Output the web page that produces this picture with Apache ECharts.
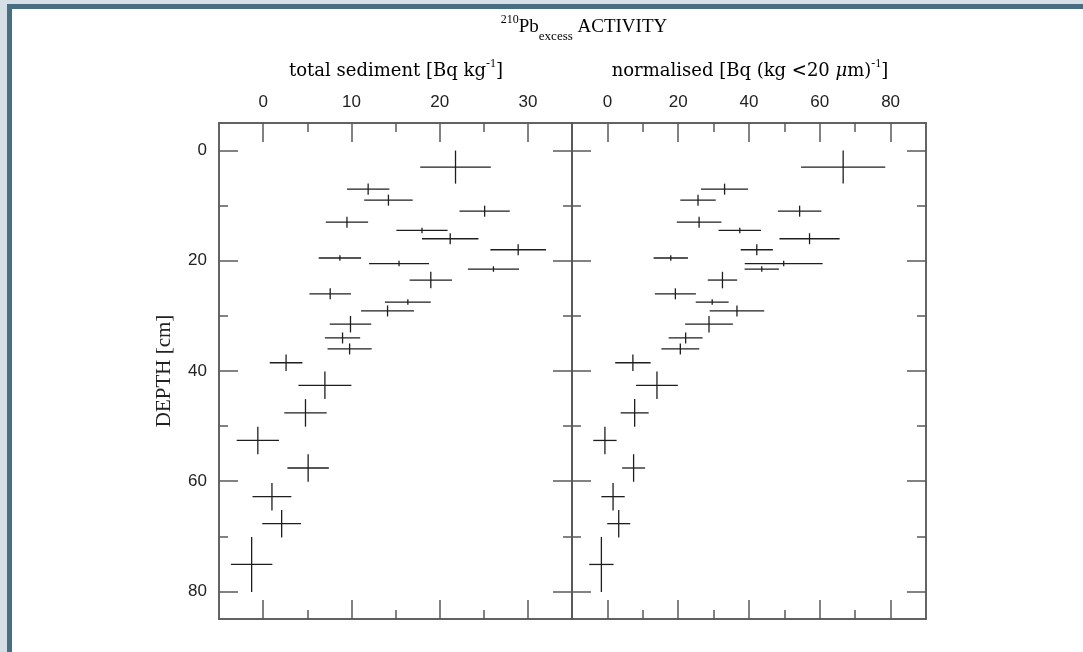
<!DOCTYPE html>
<html><head><meta charset="utf-8">
<script src="https://cdn.jsdelivr.net/npm/echarts@6/dist/echarts.min.js"></script>
<style>
html,body{margin:0;padding:0;width:1083px;height:652px;overflow:hidden;background:#d6dfe6;}
#frame{position:absolute;left:7px;top:4px;right:0;bottom:0;border-top:5px solid #4a6e81;border-left:5px solid #4a6e81;background:#fff;}
#chart{position:absolute;left:0;top:0;width:1083px;height:652px;}
</style></head>
<body><div id="frame"></div><div id="chart"></div>
<script>
// depth of each sample [cm] and its half-interval
const depth    = [3, 7, 9, 11, 13, 14.5, 16, 18, 19.5, 20.5, 21.5, 23.5, 26, 27.5, 29.1, 31.5, 34, 36, 38.5, 42.6, 47.6, 52.6, 57.6, 62.8, 67.7, 75.1];
const depthErr = [3, 1, 1, 1, 1, 0.5, 1, 1, 0.5, 0.5, 0.5, 1.5, 1, 0.5, 1, 1.5, 1, 1, 1.5, 2.5, 2.5, 2.5, 2.5, 2.5, 2.5, 5];
// total sediment activity [Bq/kg]
const totalAct = [21.8, 11.9, 14.2, 25.1, 9.5, 18.0, 21.2, 28.9, 8.7, 15.4, 26.1, 19.0, 7.6, 16.4, 14.1, 9.9, 9.0, 9.8, 2.6, 7.0, 4.8, -0.6, 5.1, 1.0, 2.1, -1.3];
const totalErr = [4.0, 2.4, 2.75, 2.85, 2.4, 2.9, 3.2, 3.15, 2.4, 3.4, 2.9, 2.4, 2.35, 2.6, 3.0, 2.35, 2.0, 2.5, 1.85, 3.0, 2.4, 2.4, 2.35, 2.2, 2.2, 2.35];
// normalised activity [Bq/(kg <20 um)]
const normAct  = [66.6, 33.1, 25.6, 54.3, 25.9, 37.4, 57.1, 42.2, 17.9, 49.8, 43.6, 32.5, 19.2, 29.6, 36.6, 28.7, 22.1, 20.6, 7.2, 14.0, 7.7, -0.7, 7.4, 1.6, 3.2, -1.7];
const normErr  = [11.9, 6.65, 5.0, 6.15, 6.3, 6.0, 8.5, 4.55, 4.85, 11.0, 4.85, 4.15, 5.8, 4.65, 7.7, 6.75, 4.8, 5.35, 5.0, 5.9, 3.95, 3.3, 3.25, 3.3, 3.25, 3.45];
// ticks
const totalMajor = [0, 10, 20, 30];
const totalMinor = [5, 15, 25];
const normMajor  = [0, 20, 40, 60, 80];
const normMinor  = [10, 30, 50, 70];
const depthMajor = [0, 20, 40, 60, 80];
const depthMinor = [10, 30, 50, 70];
const totalRange = [-5, 35];
const normRange  = [-10, 90];
const depthRange = [-5, 85];

const LINE = {color: '#5a5a5a', width: 1.5};
const LABEL = {color: '#222', fontFamily: 'Liberation Sans', fontSize: 17, margin: 12};

function tickAxis(kind, gridIndex, position, range, values, len, labelled, extra) {
  return Object.assign({
    type: 'value', gridIndex: gridIndex, position: position,
    min: range[0], max: range[1],
    axisLine: {show: true, onZero: false, lineStyle: LINE},
    axisTick: {show: true, inside: true, length: len, customValues: values, lineStyle: LINE},
    axisLabel: Object.assign({show: labelled, customValues: values}, LABEL),
    splitLine: {show: false}, minorTick: {show: false}
  }, extra || {});
}

function xAxesFor(g, range, major, minor) {
  return [
    tickAxis('x', g, 'top', range, major, 19, true),
    tickAxis('x', g, 'top', range, minor, 9, false),
    tickAxis('x', g, 'bottom', range, major, 19, false),
    tickAxis('x', g, 'bottom', range, minor, 9, false)
  ];
}
function yAxesFor(g, labelled) {
  const nameOpt = labelled ? {
    name: 'DEPTH [cm]', nameLocation: 'middle', nameGap: 44, nameRotate: 90,
    nameTextStyle: {fontFamily: 'Liberation Serif', fontSize: 21, color: '#222'}
  } : {};
  return [
    tickAxis('y', g, 'left', depthRange, depthMajor, 19, labelled, Object.assign({inverse: true}, nameOpt)),
    tickAxis('y', g, 'left', depthRange, depthMinor, 9, false, {inverse: true}),
    tickAxis('y', g, 'right', depthRange, depthMajor, 19, false, {inverse: true}),
    tickAxis('y', g, 'right', depthRange, depthMinor, 9, false, {inverse: true})
  ];
}

function crossRenderer(params, api) {
  const x = api.value(0), y = api.value(1), ex = api.value(2), ey = api.value(3);
  const a = api.coord([x - ex, y]), b = api.coord([x + ex, y]);
  const c = api.coord([x, y - ey]), d = api.coord([x, y + ey]);
  const st = {stroke: '#1e1e1e', lineWidth: 1.3};
  return {type: 'group', children: [
    {type: 'line', shape: {x1: a[0], y1: a[1], x2: b[0], y2: b[1]}, style: st},
    {type: 'line', shape: {x1: c[0], y1: c[1], x2: d[0], y2: d[1]}, style: st}
  ]};
}

const SERIF = 'Liberation Serif';
const SUBF = 'DejaVu Serif';
const rich = {
  n: {fontFamily: SERIF, fontSize: 19, color: '#222', lineHeight: 26, verticalAlign: 'middle'},
  s: {fontFamily: SUBF, fontSize: 18, color: '#222', lineHeight: 26, verticalAlign: 'middle'},
  it: {fontFamily: SUBF, fontSize: 18, fontStyle: 'italic', color: '#222', lineHeight: 26, verticalAlign: 'middle'},
  sup: {fontFamily: SERIF, fontSize: 12, color: '#222', lineHeight: 12, verticalAlign: 'top'},
  sub: {fontFamily: SERIF, fontSize: 13, color: '#222', lineHeight: 13, verticalAlign: 'bottom', padding: [0, 0, -3, 0]}
};

const chart = echarts.init(document.getElementById('chart'), null, {renderer: 'canvas'});
chart.setOption({
  backgroundColor: 'transparent',
  animation: false,
  grid: [
    {left: 219, top: 123, width: 353, height: 496},
    {left: 572, top: 123, width: 354, height: 496}
  ],
  xAxis: xAxesFor(0, totalRange, totalMajor, totalMinor).concat(xAxesFor(1, normRange, normMajor, normMinor)),
  yAxis: yAxesFor(0, true).concat(yAxesFor(1, false)),
  graphic: [
    {type: 'text', x: 584, y: 27, style: {text: '{sup|210}{n|Pb}{sub|excess}{n| ACTIVITY}', rich: rich, align: 'center', verticalAlign: 'middle'}},
    {type: 'text', x: 396, y: 71, style: {text: '{s|total sediment [Bq kg}{sup|-1}{s|]}', rich: rich, align: 'center', verticalAlign: 'middle'}},
    {type: 'text', x: 750, y: 71, style: {text: '{s|normalised [Bq (kg <20 }{it|μ}{s|m)}{sup|-1}{s|]}', rich: rich, align: 'center', verticalAlign: 'middle'}}
  ],
  series: [
    {type: 'custom', xAxisIndex: 0, yAxisIndex: 0, renderItem: crossRenderer, encode: {x: 0, y: 1},
     data: depth.map((d, i) => [totalAct[i], d, totalErr[i], depthErr[i]])},
    {type: 'custom', xAxisIndex: 4, yAxisIndex: 4, renderItem: crossRenderer, encode: {x: 0, y: 1},
     data: depth.map((d, i) => [normAct[i], d, normErr[i], depthErr[i]])}
  ]
});
</script>
</body></html>
